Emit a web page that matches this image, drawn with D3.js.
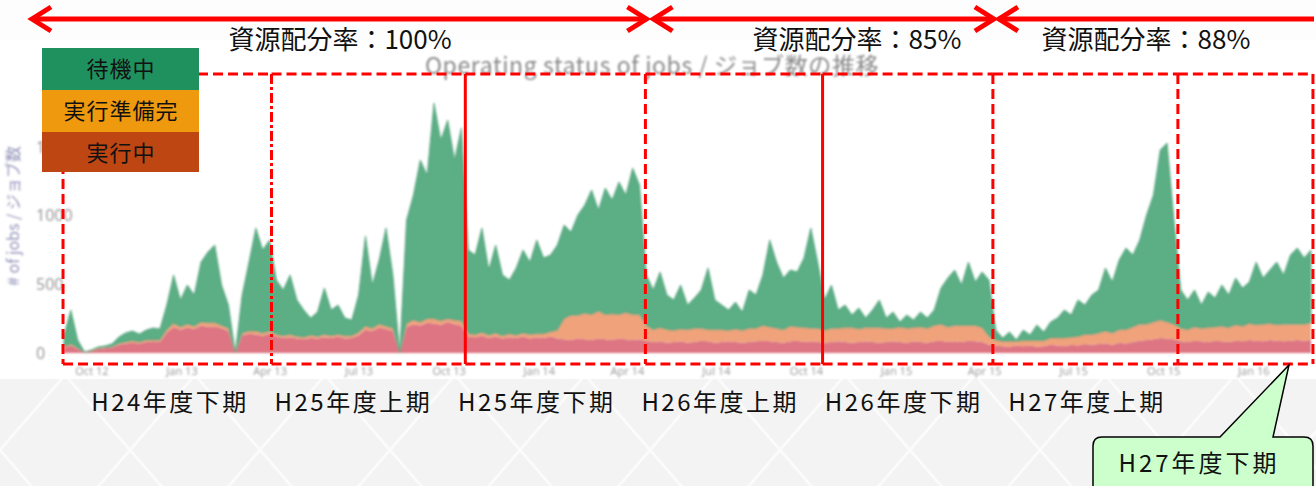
<!DOCTYPE html>
<html>
<head>
<meta charset="utf-8">
<script src="https://cdn.jsdelivr.net/npm/d3@7"></script>
<style>
html, body { margin: 0; padding: 0; background: #f3f3f3; }
svg { display: block; font-family: "Noto Sans CJK JP", "Noto Sans", sans-serif; }
</style>
</head>
<body>
<div id="chart"></div>
<script>
// Weekly samples, first week starting 2012-09-03
const weekStart = new Date(2012, 8, 3);

// jobs running / 実行中
const running = [40,55,30,5,15,30,35,40,60,70,
  75,70,80,85,80,150,190,170,185,175,
  200,190,195,180,160,0,130,140,135,125,
  140,120,110,115,105,100,110,105,115,110,
  120,105,110,130,170,160,185,175,160,0,
  190,210,200,220,215,205,225,210,200,120,
  115,125,110,120,105,115,110,120,105,115,
  110,120,105,100,95,105,100,95,105,100,
  95,105,100,95,100,90,80,85,75,80,
  85,75,80,90,85,75,80,85,80,75,
  80,85,90,85,80,75,85,90,80,85,
  80,75,80,85,80,75,80,85,80,75,
  80,85,80,75,85,80,75,85,90,80,
  85,80,90,85,80,60,55,50,45,55,
  50,55,45,50,60,55,50,60,55,65,
  60,65,70,60,75,70,80,90,95,100,
  110,105,100,85,80,90,85,80,90,85,
  80,90,85,95,90,85,95,90,85,90,
  95,90,95];

// jobs ready / 実行準備完
const ready = [5,10,5,0,2,5,5,5,10,10,
  15,10,15,10,15,20,25,20,25,20,
  25,30,25,20,20,0,15,20,25,20,
  20,15,15,20,15,15,20,15,20,15,
  15,20,15,20,25,20,25,20,20,0,
  25,30,25,30,35,30,25,30,35,20,
  20,25,20,25,20,25,20,25,30,25,
  30,35,60,150,180,170,190,185,200,180,
  190,175,195,185,180,110,90,100,95,85,
  90,95,100,90,85,95,90,80,95,90,
  100,95,110,105,100,95,110,100,105,95,
  100,90,100,95,105,110,95,100,105,110,
  100,95,110,105,100,110,105,115,120,110,
  115,120,110,115,105,60,40,35,40,30,
  40,35,45,40,50,55,60,55,65,70,
  75,80,90,85,95,100,110,120,115,125,
  130,120,110,95,90,100,95,105,100,110,
  105,115,110,120,115,125,120,115,125,120,
  115,120,125];

// jobs waiting / 待機中
const waiting = [85,248,60,2,5,9,11,21,46,66,
  70,58,72,87,80,179,353,196,285,227,
  437,515,566,295,169,0,277,502,750,605,
  663,396,334,433,266,198,125,178,338,188,
  214,130,115,272,657,315,467,715,388,0,
  753,910,1180,1046,1570,1315,1446,1165,1403,610,
  578,760,474,641,443,391,489,605,527,683,
  552,558,621,682,606,730,787,907,736,921,
  829,965,855,1067,943,368,289,405,252,221,
  320,179,220,279,449,216,179,148,196,133,
  279,242,368,633,482,376,409,400,507,730,
  482,221,315,133,164,92,153,70,128,201,
  75,118,36,97,55,108,75,113,263,356,
  404,295,462,317,405,411,72,24,68,10,
  77,41,114,63,116,145,203,162,266,214,
  287,314,459,372,507,594,523,613,795,925,
  1238,1304,758,279,216,269,169,259,210,300,
  237,341,278,302,457,336,389,457,358,503,
  554,482,530];

const yTicks = [0, 500, 1000, 1500];

// Legend
const legendLabels = ['待機中', '実行準備完', '実行中'];
const legendColors = ['#1f915f', '#ef990f', '#bd4613'];

// Half-year periods (boxes drawn on the slide)
const periodEdges = ['2012-09-02', '2013-04-03', '2013-10-18', '2014-04-20',
  '2014-10-18', '2015-04-10', '2015-10-16', '2016-03-02'];
const edgeStyles = ['dash', 'dashdot', 'solid', 'dash', 'solid', 'dash', 'dash', 'dash'];
const periodLabels = ['H24年度下期', 'H25年度上期', 'H25年度下期', 'H26年度上期',
  'H26年度下期', 'H27年度上期'];
const calloutLabel = 'H27年度下期';

// Resource allocation ranges (period edge indices)
const allocLabels = ['資源配分率：100%', '資源配分率：85%', '資源配分率：88%'];
const allocRanges = [[0, 3], [3, 5], [5, 7]];

// Configuration
const config = {
    width: 1316,
    height: 486,
    colors: { running: '#dd7483', ready: '#f0a27a', waiting: '#5bae85' },
    boxTop: 74,
    boxBottom: 364
};

const parseDay = d3.timeParse('%Y-%m-%d');
const dates = running.map((_, i) => d3.timeDay.offset(weekStart, 7 * i));
const rows = dates.map((d, i) => ({ date: d, running: running[i], ready: ready[i], waiting: waiting[i] }));

const x = d3.scaleTime()
    .domain([dates[0], dates[dates.length - 1]])
    .range([64, 1311]);

const y = d3.scaleLinear()
    .domain([0, 1500])
    .range([353, 147]);

const svg = d3.select('#chart')
    .append('svg')
    .attr('width', config.width)
    .attr('height', config.height);

const defs = svg.append('defs');
defs.append('filter').attr('id', 'blurArea')
    .append('feGaussianBlur').attr('stdDeviation', 0.8);
defs.append('filter').attr('id', 'blurText')
    .append('feGaussianBlur').attr('stdDeviation', 1.1);

// Slide background with a faint lattice
const pat = defs.append('pattern').attr('id', 'lattice')
    .attr('patternUnits', 'userSpaceOnUse')
    .attr('width', 130).attr('height', 150);
pat.append('rect').attr('width', 130).attr('height', 150).attr('fill', '#f3f3f3');
pat.append('path').attr('d', 'M0,0L130,150M130,0L0,150')
    .attr('stroke', '#fbfbfb').attr('stroke-width', 3);

svg.append('rect').attr('width', config.width).attr('height', config.height).attr('fill', 'url(#lattice)');
svg.append('rect').attr('width', config.width).attr('height', 40).attr('fill', '#fdfdfd');
// Screenshot panel
svg.append('rect').attr('x', 0).attr('y', 40).attr('width', config.width).attr('height', 339).attr('fill', '#ffffff');

// Chart title and axes (blurred like a pasted screenshot)
const shot = svg.append('g');

shot.append('text')
    .attr('x', 652).attr('y', 74)
    .attr('text-anchor', 'middle')
    .attr('font-size', 23)
    .attr('letter-spacing', 0.6)
    .attr('fill', '#8a8a8a')
    .attr('filter', 'url(#blurText)')
    .text('Operating status of jobs / ジョブ数の推移');

shot.append('line')
    .attr('x1', 40).attr('x2', 1300)
    .attr('y1', y(1500)).attr('y2', y(1500))
    .attr('stroke', '#d2d2d2').attr('stroke-width', 2)
    .attr('filter', 'url(#blurArea)');

// Stacked areas
const stack = d3.stack().keys(['running', 'ready', 'waiting']);
const series = stack(rows);

const area = d3.area()
    .x(d => x(d.data.date))
    .y0(d => y(d[0]))
    .y1(d => y(d[1]));

shot.append('g')
    .attr('filter', 'url(#blurArea)')
    .selectAll('path')
    .data(series)
    .join('path')
    .attr('d', area)
    .attr('fill', d => config.colors[d.key])
    .attr('stroke', d => d.key === 'waiting' ? '#4f9f77' : 'none')
    .attr('stroke-width', 0.8);

const yAxis = shot.append('g')
    .attr('transform', 'translate(36,0)')
    .attr('filter', 'url(#blurText)')
    .call(d3.axisRight(y).tickValues(yTicks).tickFormat(d3.format('d')).tickSize(0).tickPadding(0));
yAxis.select('.domain').remove();
yAxis.selectAll('text').attr('font-size', 16).attr('fill', '#9a9a9a')
    .attr('font-family', '"Noto Sans", sans-serif');

const xAxis = shot.append('g')
    .attr('transform', 'translate(0,367)')
    .attr('filter', 'url(#blurText)')
    .call(d3.axisBottom(x)
        .tickValues(x.ticks(d3.timeMonth.every(3)))
        .tickFormat(d3.timeFormat('%b %y'))
        .tickSize(0).tickPadding(0));
xAxis.select('.domain').remove();
xAxis.selectAll('text').attr('font-size', 11).attr('fill', '#a0a0a0')
    .attr('font-family', '"Noto Sans", sans-serif');

shot.append('text')
    .attr('transform', 'translate(19,216) rotate(-90)')
    .attr('text-anchor', 'middle')
    .attr('font-size', 16)
    .attr('fill', '#9494bb')
    .attr('filter', 'url(#blurText)')
    .text('# of jobs / ジョブ数');

// Period boxes
const edgeX = periodEdges.map(s => x(parseDay(s)));
const dashFor = { dash: '10,5', dashdot: '10,3,3,3', solid: null };

const boxes = svg.append('g')
    .attr('stroke', '#ff0000')
    .attr('stroke-width', 3)
    .attr('fill', 'none');

edgeX.slice(0, -1).forEach((x0, i) => {
    const x1 = edgeX[i + 1];
    boxes.append('line')
        .attr('x1', x0).attr('x2', x1)
        .attr('y1', config.boxTop).attr('y2', config.boxTop)
        .attr('stroke-dasharray', '10,5');
    boxes.append('line')
        .attr('x1', x0).attr('x2', x1)
        .attr('y1', config.boxBottom).attr('y2', config.boxBottom)
        .attr('stroke-dasharray', '10,5');
});

boxes.selectAll('.edge')
    .data(edgeX)
    .join('line')
    .attr('class', 'edge')
    .attr('x1', d => d).attr('x2', d => d)
    .attr('y1', config.boxTop).attr('y2', config.boxBottom)
    .attr('stroke-dasharray', (d, i) => dashFor[edgeStyles[i]]);

// Legend
const legend = svg.append('g').attr('transform', 'translate(42,48)');
legend.selectAll('rect')
    .data(legendLabels)
    .join('rect')
    .attr('x', 0)
    .attr('y', (d, i) => i * 42)
    .attr('width', 157)
    .attr('height', (d, i) => i === 2 ? 40 : 42)
    .attr('fill', (d, i) => legendColors[i]);
legend.selectAll('text')
    .data(legendLabels)
    .join('text')
    .attr('x', 79)
    .attr('y', (d, i) => i * 42 + 29)
    .attr('text-anchor', 'middle')
    .attr('font-size', 22)
    .attr('letter-spacing', 1)
    .attr('fill', '#111')
    .text(d => d);

// Resource allocation arrows
const arrowY = 19;
const arrowSpans = allocRanges.map(([a, b], i) => [
    i === 0 ? 30 : edgeX[a] + (i === 1 ? 6 : 4),
    i === allocRanges.length - 1 ? config.width : edgeX[b] + 3
]);

const arrows = svg.append('g')
    .attr('stroke', '#ff0000')
    .attr('fill', 'none')
    .attr('stroke-width', 5);

arrowSpans.forEach(([x0, x1], i) => {
    arrows.append('line')
        .attr('x1', x0 + 2).attr('x2', x1 - 2)
        .attr('y1', arrowY).attr('y2', arrowY);
    arrows.append('path')
        .attr('d', `M${x0 + 21},${arrowY - 12}L${x0 + 2},${arrowY}L${x0 + 21},${arrowY + 12}`);
    if (i < arrowSpans.length - 1) {
        arrows.append('path')
            .attr('d', `M${x1 - 21},${arrowY - 12}L${x1 - 2},${arrowY}L${x1 - 21},${arrowY + 12}`);
    }
});

const allocCenters = [340, 857, 1146];
svg.append('g')
    .selectAll('text')
    .data(allocLabels)
    .join('text')
    .attr('x', (d, i) => allocCenters[i])
    .attr('y', 49)
    .attr('text-anchor', 'middle')
    .attr('font-size', 26)
    .attr('fill', '#111')
    .text(d => d);

// Period labels below the chart
svg.append('g')
    .selectAll('text')
    .data(periodLabels)
    .join('text')
    .attr('x', (d, i) => 170 + i * 183.4)
    .attr('y', 411)
    .attr('text-anchor', 'middle')
    .attr('font-size', 24)
    .attr('letter-spacing', 2.5)
    .attr('fill', '#111')
    .text(d => d);

// Callout for the last half-year
const cx0 = 1093, cx1 = 1313, cy0 = 437, cy1 = 500, r = 9;
const tipX = 1289, tipY = 365;
svg.append('path')
    .attr('d', `M${cx0 + r},${cy0}L1220,${cy0}L${tipX},${tipY}L1273,${cy0}L${cx1 - r},${cy0}` +
        `Q${cx1},${cy0} ${cx1},${cy0 + r}L${cx1},${cy1}L${cx0},${cy1}L${cx0},${cy0 + r}` +
        `Q${cx0},${cy0} ${cx0 + r},${cy0}Z`)
    .attr('fill', '#ccffcc')
    .attr('stroke', '#000')
    .attr('stroke-width', 1.5);

svg.append('text')
    .attr('x', 1199)
    .attr('y', 472)
    .attr('text-anchor', 'middle')
    .attr('font-size', 24)
    .attr('letter-spacing', 3)
    .attr('fill', '#111')
    .text(calloutLabel);
</script>
</body>
</html>
